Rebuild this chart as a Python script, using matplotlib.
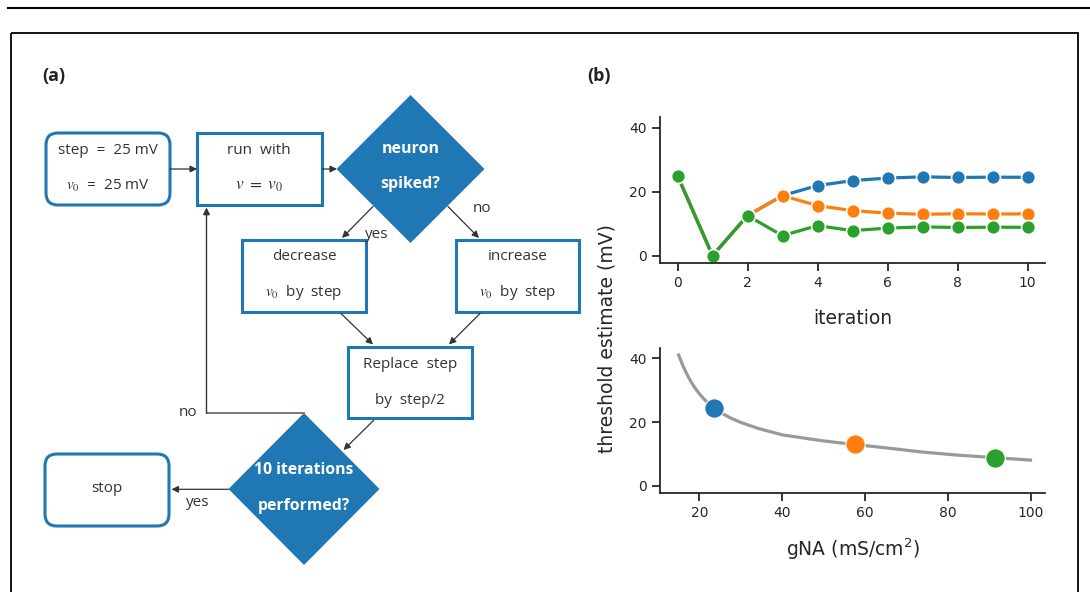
import matplotlib
matplotlib.use("Agg")
import matplotlib.pyplot as plt
from matplotlib.patches import FancyBboxPatch, Polygon, Rectangle
from matplotlib.lines import Line2D

# ---------------- data ----------------
iterations = list(range(11))
est_blue = [25, 0, 12.5, 18.75, 21.875, 23.44, 24.22, 24.61, 24.41, 24.51, 24.46]
est_orange = [25, 0, 12.5, 18.75, 15.625, 14.06, 13.28, 12.89, 13.09, 12.99, 13.04]
est_green = [25, 0, 12.5, 6.25, 9.375, 7.81, 8.59, 8.98, 8.79, 8.89, 8.84]

gna_curve = [15, 16, 17, 18, 19, 20, 21, 22, 23.5, 25, 27.5, 30, 34, 40, 50, 57.5, 66, 74, 82, 91.5, 100]
thr_curve = [41.0, 37.8, 35.0, 32.6, 30.6, 28.9, 27.4, 26.1, 24.4, 23.1, 21.3, 19.9, 18.1, 16.0, 14.1, 13.0, 11.8, 10.6, 9.7, 8.85, 8.1]

gna_points = [23.5, 57.5, 91.5]
thr_points = [24.46, 13.04, 8.84]

colors = ["#1f77b4", "#ff7f0e", "#2ca02c"]
xticks_top = [0, 2, 4, 6, 8, 10]
xticks_bot = [20, 40, 60, 80, 100]
yticks = [0, 20, 40]

W, H = 1090, 592
fig = plt.figure(figsize=(W / 100, H / 100), dpi=100)

# ---------------- background / flowchart in pixel coords ----------------
bg = fig.add_axes([0, 0, 1, 1])
bg.set_xlim(0, W)
bg.set_ylim(H, 0)
bg.axis("off")

bg.add_line(Line2D([8, W], [8, 8], color="black", lw=1.5))
bg.add_patch(Rectangle((11, 33), 1067, 600, fill=False, ec="black", lw=1.3))

FC = "#1f77b4"
TXT = "#333333"
FONT = "Open Sans"

bg.text(42, 76, "(a)", fontsize=13, fontweight="bold", family=FONT, va="center", ha="left", color="#222222")
bg.text(587, 76, "(b)", fontsize=13, fontweight="bold", family=FONT, va="center", ha="left", color="#222222")


def rbox(x0, y0, x1, y1, rounded=False):
    if rounded:
        p = FancyBboxPatch((x0 + 10, y0 + 10), x1 - x0 - 20, y1 - y0 - 20,
                           boxstyle="round,pad=10,rounding_size=12",
                           fc="white", ec=FC, lw=2.2)
    else:
        p = Rectangle((x0, y0), x1 - x0, y1 - y0, fc="white", ec=FC, lw=2.2)
    bg.add_patch(p)


def diamond(cx, cy, hw, hh):
    bg.add_patch(Polygon([(cx, cy - hh), (cx + hw, cy), (cx, cy + hh), (cx - hw, cy)],
                         closed=True, fc=FC, ec="none"))


def label(x, y, s, **kw):
    kw.setdefault("fontsize", 11)
    kw.setdefault("color", TXT)
    bg.text(x, y, s, ha="center", va="center", family=FONT, math_fontfamily="stix", **kw)


def arrow(x0, y0, x1, y1, color="#333333", lw=0.9):
    bg.annotate("", xy=(x1, y1), xytext=(x0, y0),
                arrowprops=dict(arrowstyle="-|>", color=color, lw=lw,
                                mutation_scale=10, shrinkA=0, shrinkB=0))


# boxes
rbox(46, 133, 170, 205, rounded=True)
label(108, 151, "step  =  25 mV")
label(108, 186, r"$v_0$  =  25 mV", fontsize=11)

rbox(197, 133, 322, 205)
label(259, 151, "run  with")
label(259, 186, r"$v\ =\ v_0$", fontsize=12.5)

diamond(410.5, 169, 74, 74)
label(410.5, 149, "neuron", color="white", fontweight="bold", fontsize=11.5)
label(410.5, 184, "spiked?", color="white", fontweight="bold", fontsize=11.5)

rbox(242, 240, 366, 312)
label(304, 257, "decrease")
label(304, 293, r"$v_0$  by  step")

rbox(456, 240, 579, 312)
label(518, 257, "increase")
label(518, 293, r"$v_0$  by  step")

rbox(348, 347, 472, 418)
label(410, 364, "Replace  step")
label(410, 400, "by  step/2")

diamond(304, 489, 75.5, 76)
label(304, 470, "10 iterations", color="white", fontweight="bold", fontsize=11.3)
label(304, 506, "performed?", color="white", fontweight="bold", fontsize=11.3)

rbox(45, 454, 169, 526, rounded=True)
label(107, 489, "stop")

# arrows
arrow(170, 169, 197, 169)
arrow(322, 169, 337, 169)
arrow(373, 206.5, 342, 238)
arrow(448, 206.5, 479, 238)
arrow(341, 313.5, 373, 344.5)
arrow(480, 313.5, 449, 344.5)
arrow(373.5, 420.5, 343.5, 450)
arrow(228.5, 489.3, 171.5, 489.3)

# "no" loop back to run box
bg.add_line(Line2D([304, 206.5], [413.3, 413.3], color="#777777", lw=1.4))
arrow(206.5, 413.3, 206.5, 207.5, color="#333333", lw=1.0)

label(377, 235, "yes")
label(482, 209, "no")
label(188, 412, "no")
label(198, 502, "yes")

# ---------------- panel (b) ----------------
SPC = "#262626"


def style(ax):
    for s in ("top", "right"):
        ax.spines[s].set_visible(False)
    for s in ("left", "bottom"):
        ax.spines[s].set_color(SPC)
        ax.spines[s].set_linewidth(1.3)
    ax.tick_params(direction="out", length=6, width=1.3, colors=SPC,
                   labelsize=10, labelcolor=SPC)


ax1 = fig.add_axes([660 / W, 1 - 263 / H, 385 / W, 146 / H])
for vals, c in zip([est_blue, est_orange, est_green], colors):
    ax1.plot(iterations, vals, "-o", color=c, lw=2.3, ms=10,
             mec="white", mew=1.2, solid_capstyle="butt")
ax1.set_xlim(-0.5, 10.5)
ax1.set_ylim(-2.3, 43.3)
ax1.set_xticks(xticks_top)
ax1.set_yticks(yticks)
style(ax1)

ax2 = fig.add_axes([660 / W, 1 - 493 / H, 385 / W, 145 / H])
ax2.plot(gna_curve, thr_curve, color="#999999", lw=2.3, zorder=2)
for g, t, c in zip(gna_points, thr_points, colors):
    ax2.plot([g], [t], "o", color=c, ms=14, mec="white", mew=0.8, zorder=3)
ax2.set_xlim(10.5, 103.5)
ax2.set_ylim(-2.2, 43.2)
ax2.set_xticks(xticks_bot)
ax2.set_yticks(yticks)
style(ax2)

fig.text(853 / W, 1 - 318 / H, "iteration", ha="center", va="center", fontsize=13.5, color=SPC)
fig.text(853 / W, 1 - 549 / H, r"gNA (mS/cm$^2$)", ha="center", va="center", fontsize=13.5, color=SPC)
fig.text(607 / W, 1 - 339 / H, "threshold estimate (mV)", ha="center", va="center",
         rotation=90, fontsize=13.5, color=SPC)

fig.savefig("out.png", dpi=100)
